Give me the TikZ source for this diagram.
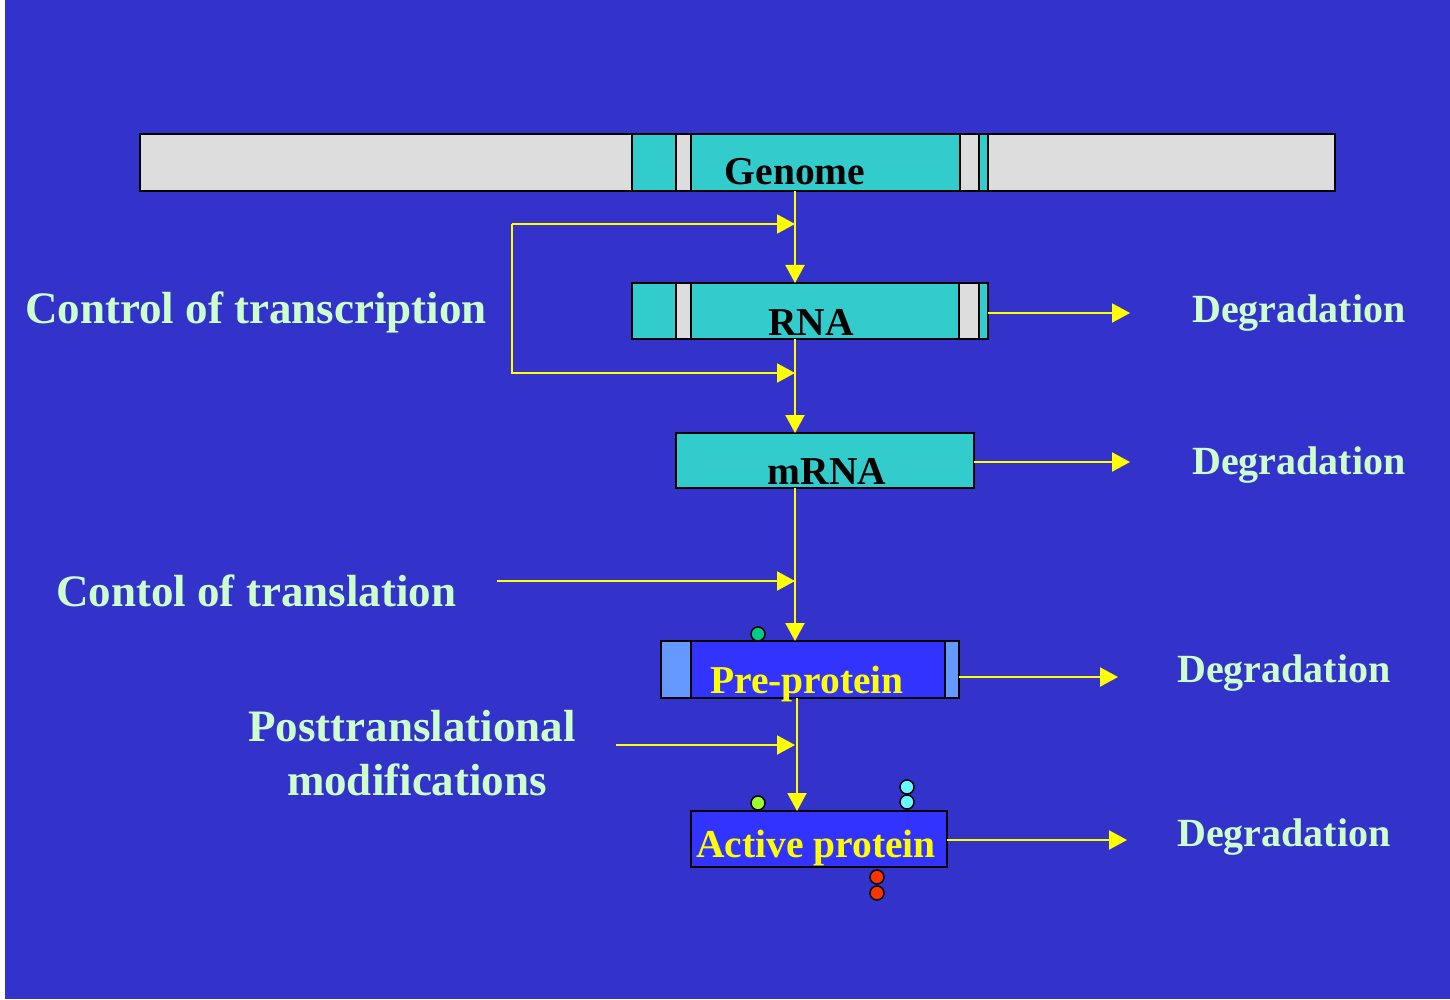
\documentclass[tikz,border=0pt]{standalone}
\usepackage{fontspec}
\setmainfont{Liberation Serif}
\usetikzlibrary{arrows.meta}
\definecolor{bgblue}{HTML}{3333CC}
\definecolor{boxteal}{HTML}{33CCCC}
\definecolor{seggray}{HTML}{DDDDDD}
\definecolor{protblue}{HTML}{3333FF}
\definecolor{segblue}{HTML}{6699FF}
\definecolor{paletext}{HTML}{CCFFCC}
\definecolor{yel}{HTML}{FFFF00}
\definecolor{dotgreen}{HTML}{00CC88}
\definecolor{dotlime}{HTML}{99FF33}
\definecolor{dotcyan}{HTML}{66FFFF}
\definecolor{dotred}{HTML}{FF3300}
\begin{document}
\begin{tikzpicture}[x=1pt,y=-1pt,
  box/.style={draw=black, line width=2pt, rectangle, inner sep=0pt, outer sep=0pt},
  seg/.style={draw=black, line width=1.5pt},
  flow/.style={draw=yel, line width=2pt, -{Triangle[length=18pt,width=19pt]}},
  boxlbl/.style={anchor=base, inner sep=0pt, font={\fontsize{39.5}{47}\selectfont\bfseries}},
  sidelbl/.style={inner sep=0pt, text=paletext, font={\fontsize{45}{54}\selectfont\bfseries}},
  deglbl/.style={anchor=base west, inner sep=0pt, text=paletext, font={\fontsize{40}{48}\selectfont\bfseries}},
  dot/.style={circle, draw=black, line width=1.5pt, minimum size=14pt, inner sep=0pt}]
\useasboundingbox (0,0) rectangle (1450,1000);
\fill[white] (0,0) rectangle (1450,1000);
\fill[bgblue] (5,0) rectangle (1450,999);

% Genome
\node[box, fill=seggray, minimum width=1195pt, minimum height=57pt] (genome) at (737.5,162.5) {};
\fill[boxteal] (632,134) rectangle (988,191);
\draw[seg, fill=seggray] (676,134) rectangle (691,191);
\draw[seg, fill=seggray] (960,134) rectangle (979,191);
\draw[seg] (632,134) -- (632,191) (988,134) -- (988,191);
\draw[line width=2pt] (genome.south west) rectangle (genome.north east);
\node[boxlbl] (genomelbl) at (795,185) {Genome};

% RNA
\node[box, fill=boxteal, minimum width=356pt, minimum height=56pt] (rna) at (810,311) {};
\draw[seg, fill=seggray] (676,283) rectangle (691,339);
\draw[seg, fill=seggray] (959,283) rectangle (979,339);
\draw[line width=2pt] (rna.south west) rectangle (rna.north east);
\node[boxlbl] (rnalbl) at (811,335) {RNA};

% mRNA
\node[box, fill=boxteal, minimum width=298pt, minimum height=55pt] (mrna) at (825,460.5) {};
\node[boxlbl] (mrnalbl) at (827,484) {mRNA};

% Pre-protein
\node[box, fill=protblue, minimum width=298pt, minimum height=57pt] (pre) at (810,669.5) {};
\draw[seg, fill=segblue] (661,641) rectangle (691,698);
\draw[seg, fill=segblue] (945,641) rectangle (959,698);
\draw[line width=2pt] (pre.south west) rectangle (pre.north east);
\node[boxlbl, text=yel] (prelbl) at (807,693) {Pre-protein};
\node[dot, fill=dotgreen] (dotA) at (758,634) {};

% Active protein
\node[box, fill=protblue, minimum width=256pt, minimum height=56pt] (act) at (819,839) {};
\node[boxlbl, text=yel] (actlbl) at (816,857) {Active protein};
\node[dot, fill=dotlime] (dotB) at (758,803) {};
\node[dot, fill=dotcyan] (dotC1) at (907,787) {};
\node[dot, fill=dotcyan] (dotC2) at (907,802) {};
\node[dot, fill=dotred] (dotD1) at (877,877) {};
\node[dot, fill=dotred] (dotD2) at (877,893) {};

% main axis
\coordinate (ax) at (795,0);
\coordinate (axb) at (797,0);
\draw[flow] (genome.south -| ax) -- (rna.north -| ax);
\draw[flow] (rna.south -| ax) -- (mrna.north -| ax);
\draw[flow] (mrna.south -| ax) -- (pre.north -| ax);
\draw[flow] (pre.south -| axb) -- (act.north -| axb);

% transcription control loop
\coordinate (fbA) at (512,224);
\coordinate (fbtop) at (795,224);
\coordinate (fbbot) at (795,373);
\draw[flow] (fbA) -- (fbtop);
\draw[flow] (fbA) |- (fbbot);

% translation control
\coordinate (trA) at (497,581);
\draw[flow] (trA) -- (trA -| ax);
\coordinate (ptA) at (616,745);
\draw[flow] (ptA) -- (ptA -| ax);

% left labels
\node[sidelbl, anchor=base west] (ctrans) at (25,323) {Control of transcription};
\node[sidelbl, anchor=base west] (ctransl) at (56,606) {Contol of translation};
\node[sidelbl, anchor=base] (ptm1) at (412,741) {Posttranslational};
\node[sidelbl, anchor=base] (ptm2) at (417,795) {modifications};

% degradation
\node[deglbl] (deg1) at (1192,322) {Degradation};
\node[deglbl] (deg2) at (1192,474) {Degradation};
\node[deglbl] (deg3) at (1177,682) {Degradation};
\node[deglbl] (deg4) at (1177,846) {Degradation};
\coordinate (d1) at (1130,313);
\coordinate (d2) at (1130,462);
\coordinate (d3) at (1118,677);
\coordinate (d4) at (1127,840);
\draw[flow] (rna.east |- d1) -- (d1);
\draw[flow] (mrna.east |- d2) -- (d2);
\draw[flow] (pre.east |- d3) -- (d3);
\draw[flow] (act.east |- d4) -- (d4);
\end{tikzpicture}
\end{document}
